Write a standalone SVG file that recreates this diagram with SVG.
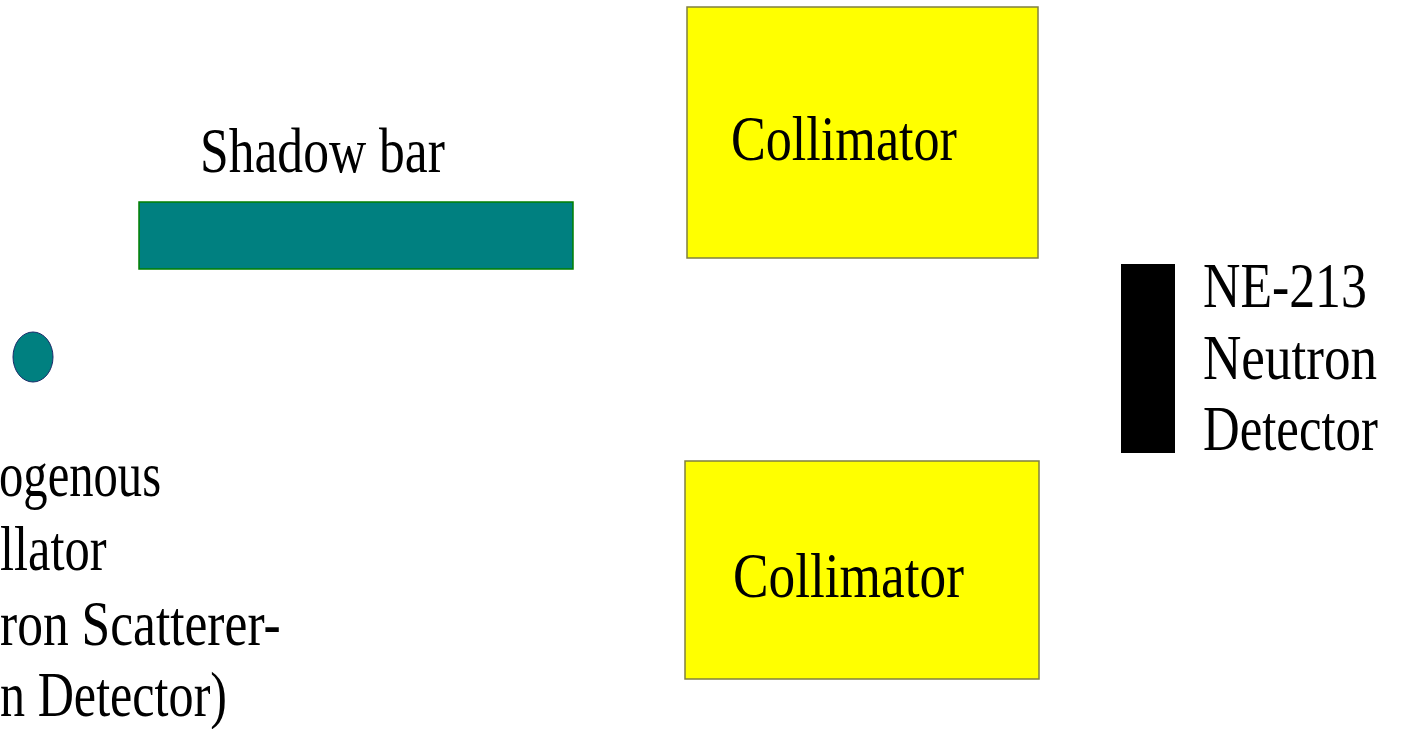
<svg xmlns="http://www.w3.org/2000/svg" width="1403" height="729" viewBox="0 0 1403 729">
  <style>
    .lbl { font-family: "Liberation Serif", "Times New Roman", serif; font-size: 64px; fill: #000; }
    .coll { fill: #ffff00; stroke: #808040; stroke-width: 1.5; }
    .teal { fill: #008080; }
  </style>
  <rect x="0" y="0" width="1403" height="729" fill="#ffffff"/>
  <g id="connectors"/>
  <g id="shadow-bar">
    <rect class="teal" x="139" y="202" width="434" height="67" stroke="#008000" stroke-width="1.5"/>
    <text class="lbl" transform="translate(200,172) scale(0.806,1)">Shadow bar</text>
  </g>
  <g id="collimator-top">
    <rect class="coll" x="687" y="7" width="351" height="251"/>
    <text class="lbl" transform="translate(731,160) scale(0.815,1)">Collimator</text>
  </g>
  <g id="collimator-bottom">
    <rect class="coll" x="685" y="461" width="354" height="218"/>
    <text class="lbl" transform="translate(733,597) scale(0.833,1)">Collimator</text>
  </g>
  <g id="detector">
    <rect x="1121" y="264" width="54" height="189" fill="#000000"/>
    <text class="lbl" transform="translate(1203,307) scale(0.809,1)">NE-213</text>
    <text class="lbl" transform="translate(1203,379) scale(0.83,1)">Neutron</text>
    <text class="lbl" transform="translate(1203,450) scale(0.794,1)">Detector</text>
  </g>
  <g id="scintillator">
    <ellipse class="teal" cx="33" cy="357" rx="20" ry="25" stroke="#1a2a6a" stroke-width="1"/>
    <text class="lbl" transform="translate(-1,496) scale(0.76,1)">ogenous</text>
    <text class="lbl" transform="translate(0,570) scale(0.79,1)">llator</text>
    <text class="lbl" transform="translate(0,645) scale(0.805,1)">ron Scatterer-</text>
    <text class="lbl" transform="translate(0,716) scale(0.784,1)">n Detector)</text>
  </g>
</svg>
